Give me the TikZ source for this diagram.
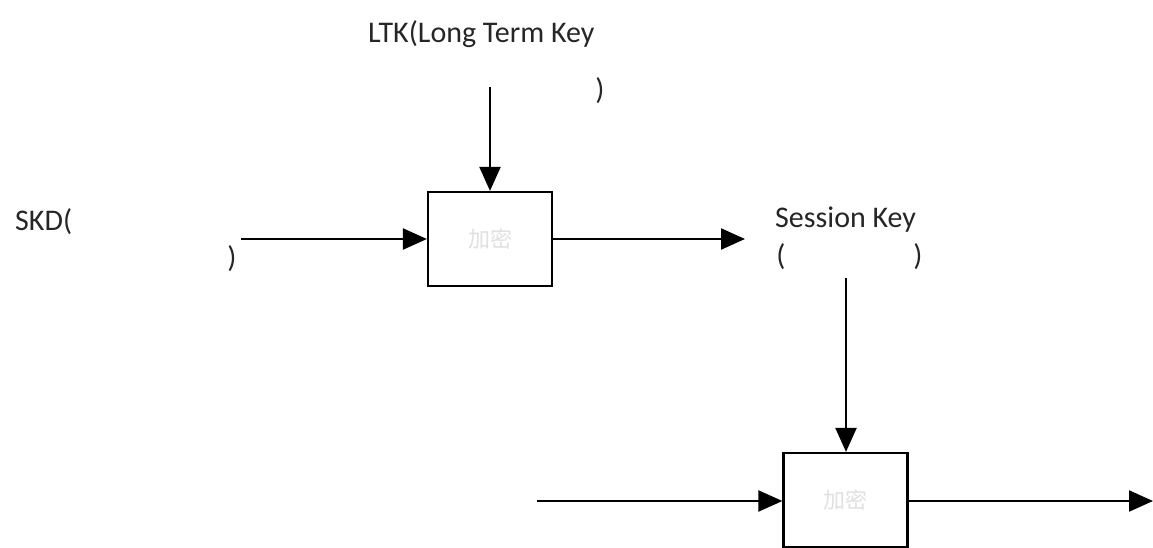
\documentclass[tikz,border=0pt]{standalone}
\usepackage{fontspec}
\setmainfont{Carlito}
\newfontfamily\cjkfont{Noto Sans CJK SC}
\usetikzlibrary{arrows.meta}
\tikzset{
  lbl/.style={font=\fontsize{30}{36}\selectfont, inner sep=0pt, text=black!85},
  encbox/.style={draw=black, line width=2.2pt, fill=white, minimum width=124pt, minimum height=94pt, inner sep=0pt, font=\cjkfont\fontsize{22}{26}\selectfont, text=black!12},
  flow/.style={line width=2.2pt, -{Triangle[length=24pt,width=21pt]}}
}
\begin{document}
\begin{tikzpicture}[x=1pt,y=-1pt]
\useasboundingbox (0,0) rectangle (1153,548);
\node[encbox] (b1) at (490,239) {加密};
\node[encbox] (b2) at (845.5,500) {加密};
\node[lbl, anchor=west] (ltk) at (368,34) {LTK(Long Term Key};
\node[lbl] (ltkc) at (600,91) {)};
\node[lbl, anchor=west] (skd) at (15,222) {SKD(};
\node[lbl] (skdc) at (232,259) {)};
\node[lbl, anchor=west] (sk) at (775,220) {Session Key};
\node[lbl] (sko) at (781,257) {(};
\node[lbl] (skc) at (918,257) {)};
\coordinate (ltkend) at (490,87);
\coordinate (skdstart) at (241,239);
\coordinate (out1) at (745,239);
\coordinate (skend) at (846,278);
\coordinate (in2) at (537,501);
\coordinate (out2) at (1153,501);
\draw[flow] (ltkend) -- (b1.north);
\draw[flow] (skdstart) -- (b1.west);
\draw[flow] (b1.east) -- (out1);
\draw[flow] (skend) -- (b2.north -| skend);
\draw[flow] (in2) -- (b2.west |- in2);
\draw[flow] (b2.east |- out2) -- (out2);
\end{tikzpicture}
\end{document}
